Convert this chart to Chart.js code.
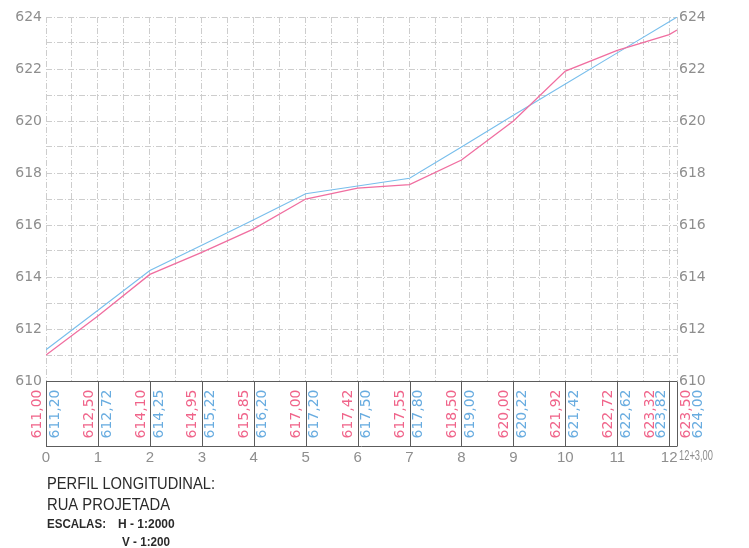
<!DOCTYPE html>
<html>
<head>
<meta charset="utf-8">
<script src="https://cdn.jsdelivr.net/npm/chart.js@4/dist/chart.umd.min.js"></script>
<style>
html,body{margin:0;padding:0;background:#fff;}
canvas{display:block;}
</style>
</head>
<body>
<canvas id="c" width="749" height="548"></canvas>
<script>
// Data
const stations = [0,1,2,3,4,5,6,7,8,9,10,11,12,12.15];
const terreno  = [611.00,612.50,614.10,614.95,615.85,617.00,617.42,617.55,618.50,620.00,621.92,622.72,623.32,623.50];
const projeto  = [611.20,612.72,614.25,615.22,616.20,617.20,617.50,617.80,619.00,620.22,621.42,622.62,623.82,624.00];
const gridStations = [0,0.5,1,1.5,2,2.5,3,3.5,4,4.5,5,5.5,6,6.5,7,7.5,8,8.5,9,9.5,10,10.5,11,11.5,12,12.15];
const lastStationLabel = '12+3,00';
const yMin = 610, yMax = 624;
const titleLines = ['PERFIL LONGITUDINAL:', 'RUA PROJETADA'];
const scaleLabel = 'ESCALAS:';
const scaleH = 'H - 1:2000';
const scaleV = 'V - 1:200';

const PINK = 'rgb(240,100,138)';
const BLUE = 'rgb(104,172,224)';
const PINK_LINE = 'rgb(240,110,160)';
const BLUE_LINE = 'rgb(120,190,236)';
const AXIS_TXT = '#8e8e8e';

const fmt = v => v.toFixed(2).replace('.', ',');

const tablePlugin = {
  id: 'tablePlugin',
  afterDraw(chart) {
    const {ctx, chartArea: a, scales: {x}} = chart;
    const top = Math.round(a.bottom) + 0.5;
    const bottom = top + 65;
    ctx.save();
    ctx.strokeStyle = '#5c5c5c';
    ctx.lineWidth = 1;
    ctx.setLineDash([]);
    ctx.beginPath();
    ctx.moveTo(a.left, top); ctx.lineTo(a.right, top);
    ctx.moveTo(a.left, bottom); ctx.lineTo(a.right, bottom);
    stations.forEach(s => {
      const px = Math.round(x.getPixelForValue(s)) + 0.5;
      ctx.moveTo(px, top); ctx.lineTo(px, bottom);
    });
    ctx.stroke();

    const n = stations.length;
    ctx.font = '14px "DejaVu Sans"';
    const drawV = (t, xx, col) => {
      ctx.save();
      ctx.translate(xx, top + 57);
      ctx.rotate(-Math.PI / 2);
      ctx.fillStyle = col;
      ctx.textAlign = 'left';
      ctx.textBaseline = 'middle';
      ctx.fillText(t, 0, 0);
      ctx.restore();
    };
    stations.forEach((s, i) => {
      const px = x.getPixelForValue(s);
      let oP = -9, oB = 9;
      if (i === n - 2) { oP = -19; oB = -8; }
      if (i === n - 1) { oP = 9; oB = 21; }
      drawV(fmt(terreno[i]), px + oP, PINK);
      drawV(fmt(projeto[i]), px + oB, BLUE);
    });

    // last station label
    ctx.fillStyle = AXIS_TXT;
    ctx.font = '15px "Liberation Sans"';
    ctx.textAlign = 'left';
    ctx.textBaseline = 'middle';
    ctx.fillText(lastStationLabel, x.getPixelForValue(12.15) + 2, 456, 34);

    // title block
    ctx.fillStyle = '#2a2a2a';
    ctx.font = '17px "Liberation Sans"';
    ctx.textBaseline = 'alphabetic';
    ctx.fillText(titleLines[0], 47, 489, 168);
    ctx.fillText(titleLines[1], 47, 510, 123);
    ctx.font = 'bold 12px "Liberation Sans"';
    ctx.fillText(scaleLabel, 47, 528, 59);
    ctx.fillText(scaleH, 118, 528, 59);
    ctx.fillText(scaleV, 122, 546, 48);
    ctx.restore();
  }
};

const gridDash = [6, 2, 1, 2];

new Chart(document.getElementById('c'), {
  type: 'line',
  data: {
    datasets: [
      {
        label: 'Terreno',
        data: stations.map((s, i) => ({x: s, y: terreno[i]})),
        borderColor: PINK_LINE,
        borderWidth: 1.3,
        pointRadius: 0,
        tension: 0,
        fill: false
      },
      {
        label: 'Projeto',
        data: stations.map((s, i) => ({x: s, y: projeto[i]})),
        borderColor: BLUE_LINE,
        borderWidth: 1.1,
        pointRadius: 0,
        tension: 0,
        fill: false
      }
    ]
  },
  options: {
    responsive: false,
    animation: false,
    devicePixelRatio: 1,
    layout: {padding: {top: 17, left: 0, right: 0, bottom: 0}},
    plugins: {legend: {display: false}, tooltip: {enabled: false}},
    scales: {
      x: {
        type: 'linear',
        min: 0, max: 12.15,
        afterBuildTicks(s) { s.ticks = gridStations.map(v => ({value: v})); },
        afterFit(s) { s.height = 167; },
        grid: {color: '#cdcdcd', lineWidth: 1, drawTicks: true, tickLength: 65, tickColor: 'rgba(0,0,0,0)'},
        border: {display: false, dash: gridDash},
        ticks: {
          autoSkip: false,
          maxRotation: 0,
          padding: 3,
          color: AXIS_TXT,
          font: {family: 'Liberation Sans', size: 15},
          callback: v => (Number.isInteger(v) ? String(v) : '')
        }
      },
      y: {
        position: 'left',
        min: yMin, max: yMax,
        afterFit(s) { s.width = 46; },
        grid: {color: '#cdcdcd', lineWidth: 1, drawTicks: false},
        border: {display: false, dash: gridDash},
        ticks: {
          stepSize: 1,
          padding: 4,
          color: AXIS_TXT,
          font: {family: 'DejaVu Sans', size: 14},
          callback: v => (v % 2 === 0 ? String(v) : '')
        }
      },
      y2: {
        position: 'right',
        min: yMin, max: yMax,
        afterFit(s) { s.width = 72; },
        grid: {display: false, drawTicks: false},
        border: {display: false},
        ticks: {
          stepSize: 1,
          padding: 2,
          color: AXIS_TXT,
          font: {family: 'DejaVu Sans', size: 14},
          callback: v => (v % 2 === 0 ? String(v) : '')
        }
      }
    }
  },
  plugins: [tablePlugin]
});
</script>
</body>
</html>
